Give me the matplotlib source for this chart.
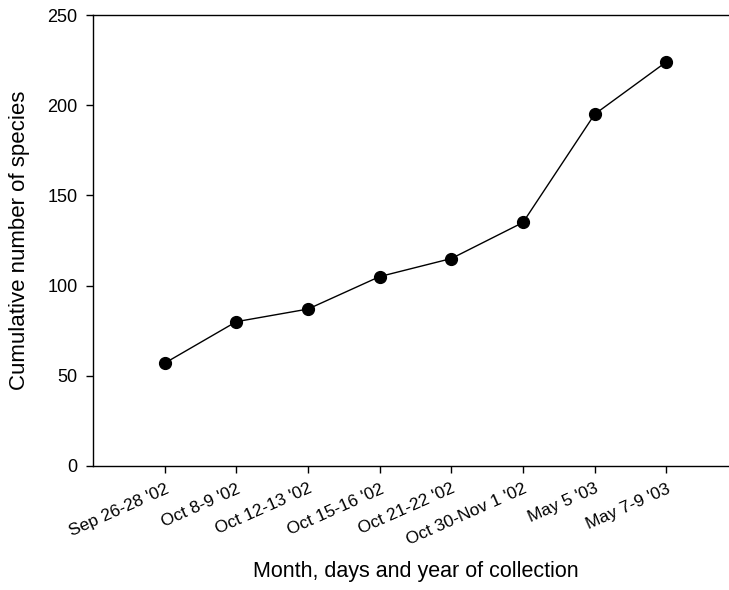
import matplotlib
matplotlib.use('Agg')
import matplotlib.pyplot as plt

# Collection dates and cumulative species counts
dates = ["Sep 26-28 '02", "Oct 8-9 '02", "Oct 12-13 '02", "Oct 15-16 '02",
         "Oct 21-22 '02", "Oct 30-Nov 1 '02", "May 5 '03", "May 7-9 '03"]
species = [57, 80, 87, 105, 115, 135, 195, 224]
y_ticks = [0, 50, 100, 150, 200, 250]

plt.rcParams['font.family'] = ['Liberation Sans', 'DejaVu Sans']

fig = plt.figure(figsize=(7.29, 5.9), dpi=100)
ax = fig.add_axes([93 / 729, 124 / 590, 645 / 729, 451 / 590])

xs = list(range(1, len(dates) + 1))
ax.plot(xs, species, color='black', linewidth=1.0, marker='o',
        markersize=8.5, markerfacecolor='black', markeredgecolor='black')

ax.set_xlim(0, 9)
ax.set_ylim(0, 250)
ax.set_xticks(xs)
ax.set_xticklabels(dates, rotation=24, ha='right', rotation_mode='anchor', fontsize=12.5)
ax.set_yticks(y_ticks)
ax.tick_params(axis='y', labelsize=13, direction='out', length=5, width=1, pad=6)
ax.tick_params(axis='x', direction='out', length=5, width=1, pad=6)
ax.spines['right'].set_visible(False)
for s in ['left', 'top', 'bottom']:
    ax.spines[s].set_linewidth(1.0)

ax.set_ylabel('Cumulative number of species', fontsize=16)
ax.set_xlabel('Month, days and year of collection', fontsize=15.5)
ax.yaxis.set_label_coords(-93 / 645 + 20 / 645, 0.5)
ax.xaxis.set_label_coords(0.5, -(572 - 466) / 451)
ax.xaxis.label.set_va('center')
ax.yaxis.label.set_va('center')

fig.savefig('out.png', dpi=100)
